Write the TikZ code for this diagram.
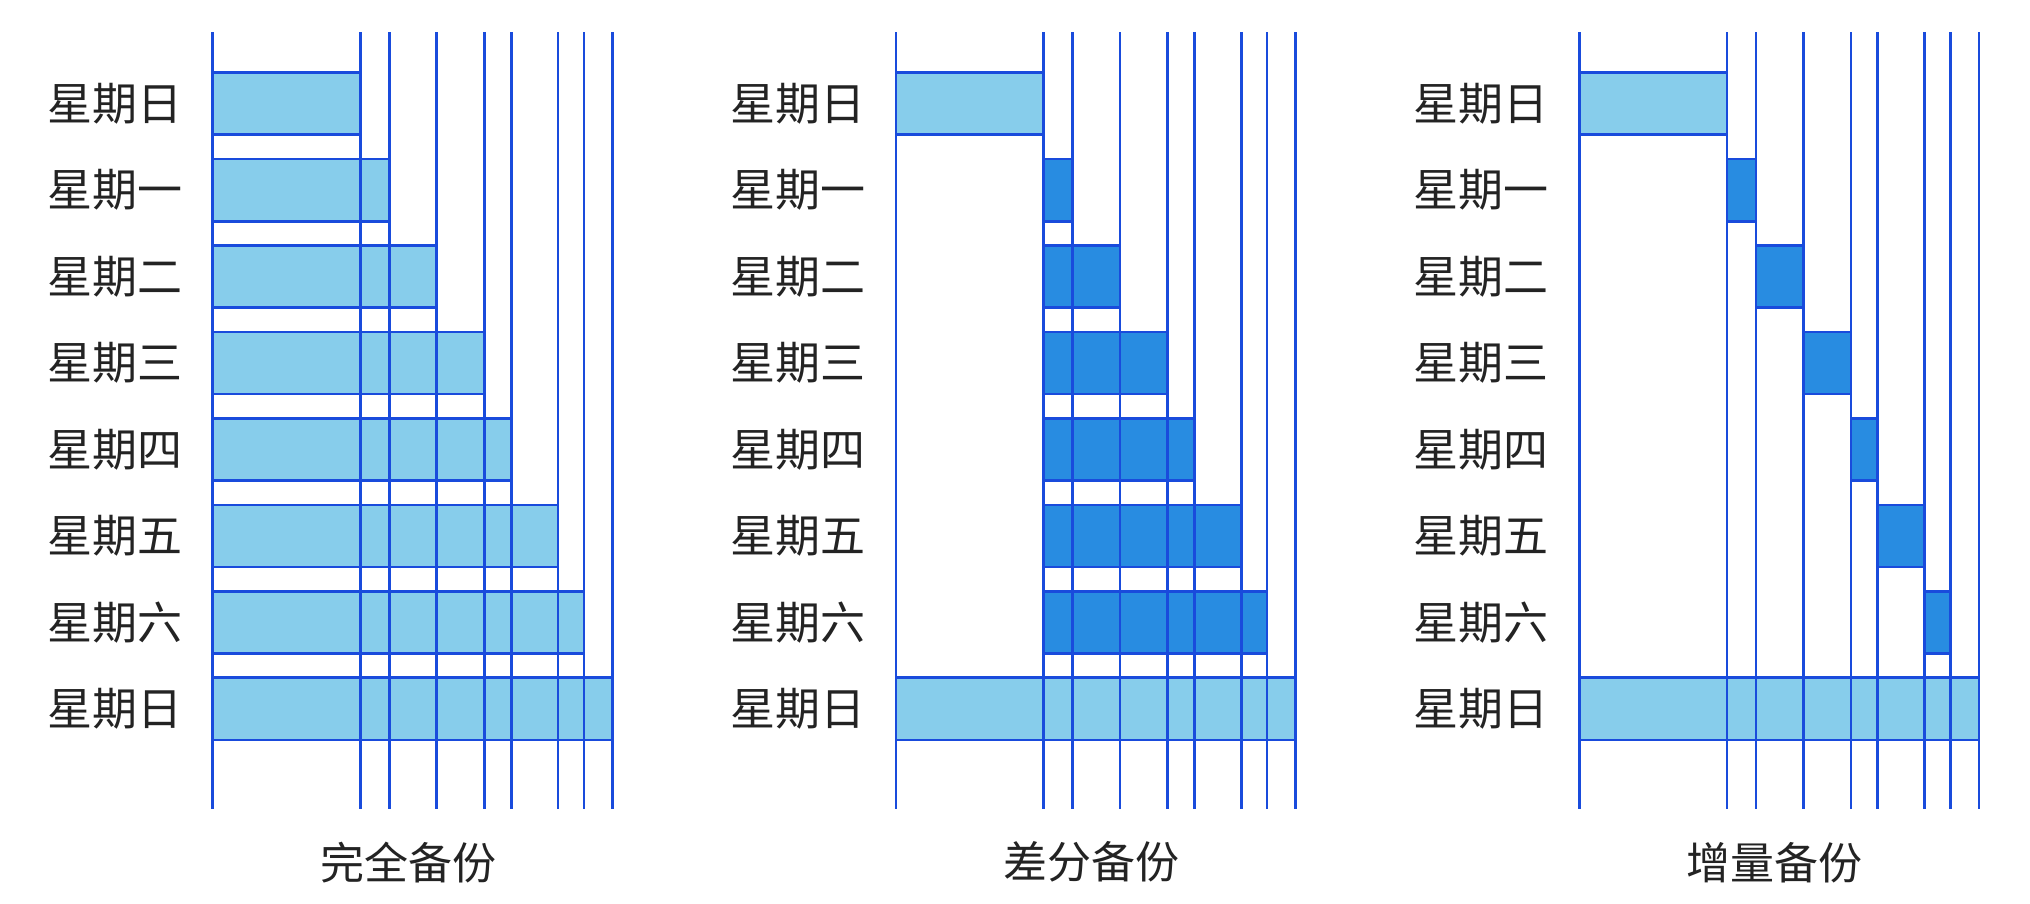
\documentclass[tikz,border=0pt]{standalone}
\usepackage{fontspec}
\newfontfamily\cjk{Noto Sans CJK SC}
\definecolor{lineblue}{RGB}{25,75,220}
\definecolor{lightfill}{RGB}{135,205,235}
\definecolor{darkfill}{RGB}{40,140,225}
\definecolor{txt}{RGB}{35,35,35}
\def\XS{{0,114,136.5,173,209.8,230.6,266.8,286.7,308.7}}
\newcommand\onebar[5]{%
  \pgfmathsetmacro\xa{#1+\XS[#3]}%
  \pgfmathsetmacro\xb{#1+\XS[#4]}%
  \pgfmathsetmacro\ya{56+66.8*#2}%
  \pgfmathsetmacro\yb{\ya+48}%
  \fill[#5] (\xa,\ya) rectangle (\xb,\yb);
  \draw[hline] (\xa,\ya) -- (\xb,\ya) (\xa,\yb) -- (\xb,\yb);
}
\tikzset{
  vline/.style={draw=lineblue, line width=2.6pt},
  hline/.style={draw=lineblue, line width=2.8pt},
  lightbar/.style={fill=lightfill},
  darkbar/.style={fill=darkfill},
  daylabel/.style={font=\cjk\fontsize{45}{45}\selectfont, text=txt, anchor=center, inner sep=0pt},
  paneltitle/.style={font=\cjk\fontsize{44}{44}\selectfont, text=txt, anchor=center, inner sep=0pt}
}
\begin{document}
\begin{tikzpicture}[x=1.2946pt,y=-1.2946pt]
\useasboundingbox (0,0) rectangle (1568,697.5);
\fill[white] (0,0) rectangle (1568,697.5);
% ---------- panel 1: full backup ----------
\def\L{164.3}
\foreach \i in {0,...,7}{
  \pgfmathtruncatemacro\j{\i+1}
  \onebar{\L}{\i}{0}{\j}{lightbar}
}
% ---------- panel 2: differential backup ----------
\def\L{692}
\onebar{\L}{0}{0}{1}{lightbar}
\foreach \i in {1,...,6}{
  \pgfmathtruncatemacro\j{\i+1}
  \onebar{\L}{\i}{1}{\j}{darkbar}
}
\onebar{\L}{7}{0}{8}{lightbar}
% ---------- panel 3: incremental backup ----------
\def\L{1219.8}
\onebar{\L}{0}{0}{1}{lightbar}
\foreach \i in {1,...,6}{
  \pgfmathtruncatemacro\j{\i+1}
  \onebar{\L}{\i}{\i}{\j}{darkbar}
}
\onebar{\L}{7}{0}{8}{lightbar}
% ---------- vertical lines ----------
\foreach \L in {164.3,692,1219.8}{
  \foreach \k in {0,...,8}{
    \pgfmathsetmacro\xk{\L+\XS[\k]}
    \draw[vline] (\xk,25) -- (\xk,625);
  }
}
% ---------- day labels ----------
\foreach \L/\p in {164.3/a,692/b,1219.8/c}{
  \foreach \d [count=\r from 0] in {星期日,星期一,星期二,星期三,星期四,星期五,星期六,星期日}{
    \pgfmathsetmacro\yc{80+66.8*\r}
    \pgfmathsetmacro\xc{\L-75.5}
    \node[daylabel] (day-\p-\r) at (\xc,\yc) {\d};
  }
}
% ---------- panel titles ----------
\node[paneltitle] (t1) at (315.5,666) {完全备份};
\node[paneltitle] (t2) at (843,666) {差分备份};
\node[paneltitle] (t3) at (1370.5,666) {增量备份};
\end{tikzpicture}
\end{document}
